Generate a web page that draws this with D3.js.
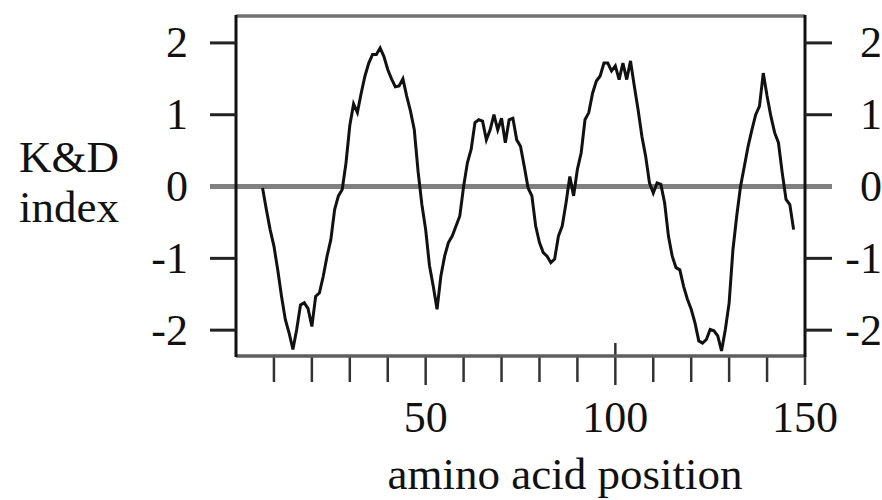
<!DOCTYPE html>
<html>
<head>
<meta charset="utf-8">
<script src="https://cdn.jsdelivr.net/npm/d3@7"></script>
<style>
  html, body { margin: 0; padding: 0; background: #fff; }
  svg { display: block; }
  text { font-family: "Liberation Serif", "Times New Roman", serif; fill: #111; }
</style>
</head>
<body>
<div id="chart"></div>
<script>
// Kyte & Doolittle hydropathy, one value per residue starting at position 7
const firstPosition = 7;
const kdValues = [
  -0.02, -0.32, -0.60, -0.83, -1.16, -1.53, -1.85, -2.04, -2.27, -1.99,
  -1.65, -1.62, -1.70, -1.95, -1.53, -1.48, -1.25, -0.97, -0.74, -0.32,
  -0.13, -0.04, 0.33, 0.85, 1.15, 1.03, 1.30, 1.54, 1.72, 1.84,
  1.84, 1.93, 1.81, 1.63, 1.50, 1.39, 1.40, 1.50, 1.26, 1.05,
  0.79, 0.21, -0.25, -0.60, -1.10, -1.39, -1.71, -1.25, -0.97, -0.78,
  -0.69, -0.55, -0.41, 0.00, 0.33, 0.52, 0.89, 0.93, 0.91, 0.65,
  0.79, 1.00, 0.79, 0.95, 0.61, 0.93, 0.95, 0.65, 0.56, 0.28,
  -0.02, -0.13, -0.55, -0.78, -0.92, -0.97, -1.06, -1.01, -0.69, -0.55,
  -0.23, 0.14, -0.13, 0.24, 0.47, 0.93, 1.03, 1.30, 1.47, 1.54,
  1.72, 1.72, 1.61, 1.68, 1.49, 1.72, 1.49, 1.75, 1.40, 1.07,
  0.70, 0.42, 0.05, -0.09, 0.05, 0.03, -0.23, -0.69, -0.97, -1.13,
  -1.16, -1.39, -1.57, -1.71, -1.90, -2.15, -2.18, -2.13, -1.99, -2.01,
  -2.08, -2.29, -1.99, -1.62, -0.88, -0.41, 0.00, 0.28, 0.56, 0.79,
  1.00, 1.12, 1.58, 1.26, 0.98, 0.75, 0.61, 0.19, -0.18, -0.25,
  -0.60
];
const yTicks = [-2, -1, 0, 1, 2];
const xTicks = [10, 20, 30, 40, 50, 60, 70, 80, 90, 100, 110, 120, 130, 140, 150];
const xLabels = [50, 100, 150];
const yTitle = ["K&D", "index"];
const xTitle = "amino acid position";

const width = 882;
const height = 500;
const plot = { left: 236, right: 805, top: 16, bottom: 356 };

const x = d3.scaleLinear().domain([0, 150]).range([plot.left, plot.right]);
const y = d3.scaleLinear().domain([-2.36, 2.375]).range([plot.bottom, plot.top]);

const svg = d3.select("#chart").append("svg")
  .attr("width", width)
  .attr("height", height)
  .attr("viewBox", `0 0 ${width} ${height}`);

// frame: grey top and bottom, black sides
svg.append("line")
  .attr("x1", plot.left).attr("x2", plot.right)
  .attr("y1", plot.top).attr("y2", plot.top)
  .attr("stroke", "#707070").attr("stroke-width", 3.5);

// zero line runs through both axes into the tick area
svg.append("line")
  .attr("x1", plot.left - 26).attr("x2", plot.right + 27)
  .attr("y1", y(0)).attr("y2", y(0))
  .attr("stroke", "#808080").attr("stroke-width", 5);

// x ticks (the 100 tick pokes into the plot a bit)
svg.selectAll(".xtick")
  .data(xTicks)
  .enter()
  .append("line")
  .attr("class", "xtick")
  .attr("x1", d => x(d)).attr("x2", d => x(d))
  .attr("y1", d => d == 100 ? plot.bottom - 13 : plot.bottom)
  .attr("y2", d => xLabels.includes(d) ? plot.bottom + 29 : plot.bottom + 26)
  .attr("stroke", "#333").attr("stroke-width", 2.5);

svg.append("line")
  .attr("x1", plot.left).attr("x2", plot.right)
  .attr("y1", plot.bottom).attr("y2", plot.bottom)
  .attr("stroke", "#5e5e5e").attr("stroke-width", 3.5);

[plot.left, plot.right].forEach(function (px) {
  svg.append("line")
    .attr("x1", px).attr("x2", px)
    .attr("y1", plot.top - 1).attr("y2", plot.bottom + 1)
    .attr("stroke", "#111").attr("stroke-width", 3);
});

// y ticks on both sides
const ySide = [
  { x1: plot.left - 26, x2: plot.left, labelX: 188 },
  { x1: plot.right, x2: plot.right + 27, labelX: 882 }
];
ySide.forEach(function (side) {
  svg.selectAll(null)
    .data(yTicks.filter(d => d != 0))
    .enter()
    .append("line")
    .attr("x1", side.x1).attr("x2", side.x2)
    .attr("y1", d => y(d)).attr("y2", d => y(d))
    .attr("stroke", "#222").attr("stroke-width", 3);

  svg.selectAll(null)
    .data(yTicks)
    .enter()
    .append("text")
    .attr("x", side.labelX)
    .attr("y", d => y(d))
    .attr("dy", "0.33em")
    .attr("text-anchor", "end")
    .attr("font-size", 44)
    .text(d => d);
});

svg.selectAll(".xlabel")
  .data(xLabels)
  .enter()
  .append("text")
  .attr("class", "xlabel")
  .attr("x", d => x(d))
  .attr("y", 432)
  .attr("text-anchor", "middle")
  .attr("font-size", 44)
  .text(d => d);

svg.append("text")
  .attr("x", 565)
  .attr("y", 489)
  .attr("text-anchor", "middle")
  .attr("font-size", 45)
  .text(xTitle);

svg.selectAll(".ytitle")
  .data(yTitle)
  .enter()
  .append("text")
  .attr("class", "ytitle")
  .attr("x", 69)
  .attr("y", (d, i) => 172 + i * 50)
  .attr("text-anchor", "middle")
  .attr("font-size", 45)
  .text(d => d);

// hydropathy trace
const points = kdValues.map((v, i) => [firstPosition + i, v]);
const line = d3.line()
  .x(d => x(d[0]))
  .y(d => y(d[1]));

svg.append("path")
  .datum(points)
  .attr("d", line)
  .attr("fill", "none")
  .attr("stroke", "#111")
  .attr("stroke-width", 3)
  .attr("stroke-linejoin", "miter");
</script>
</body>
</html>
